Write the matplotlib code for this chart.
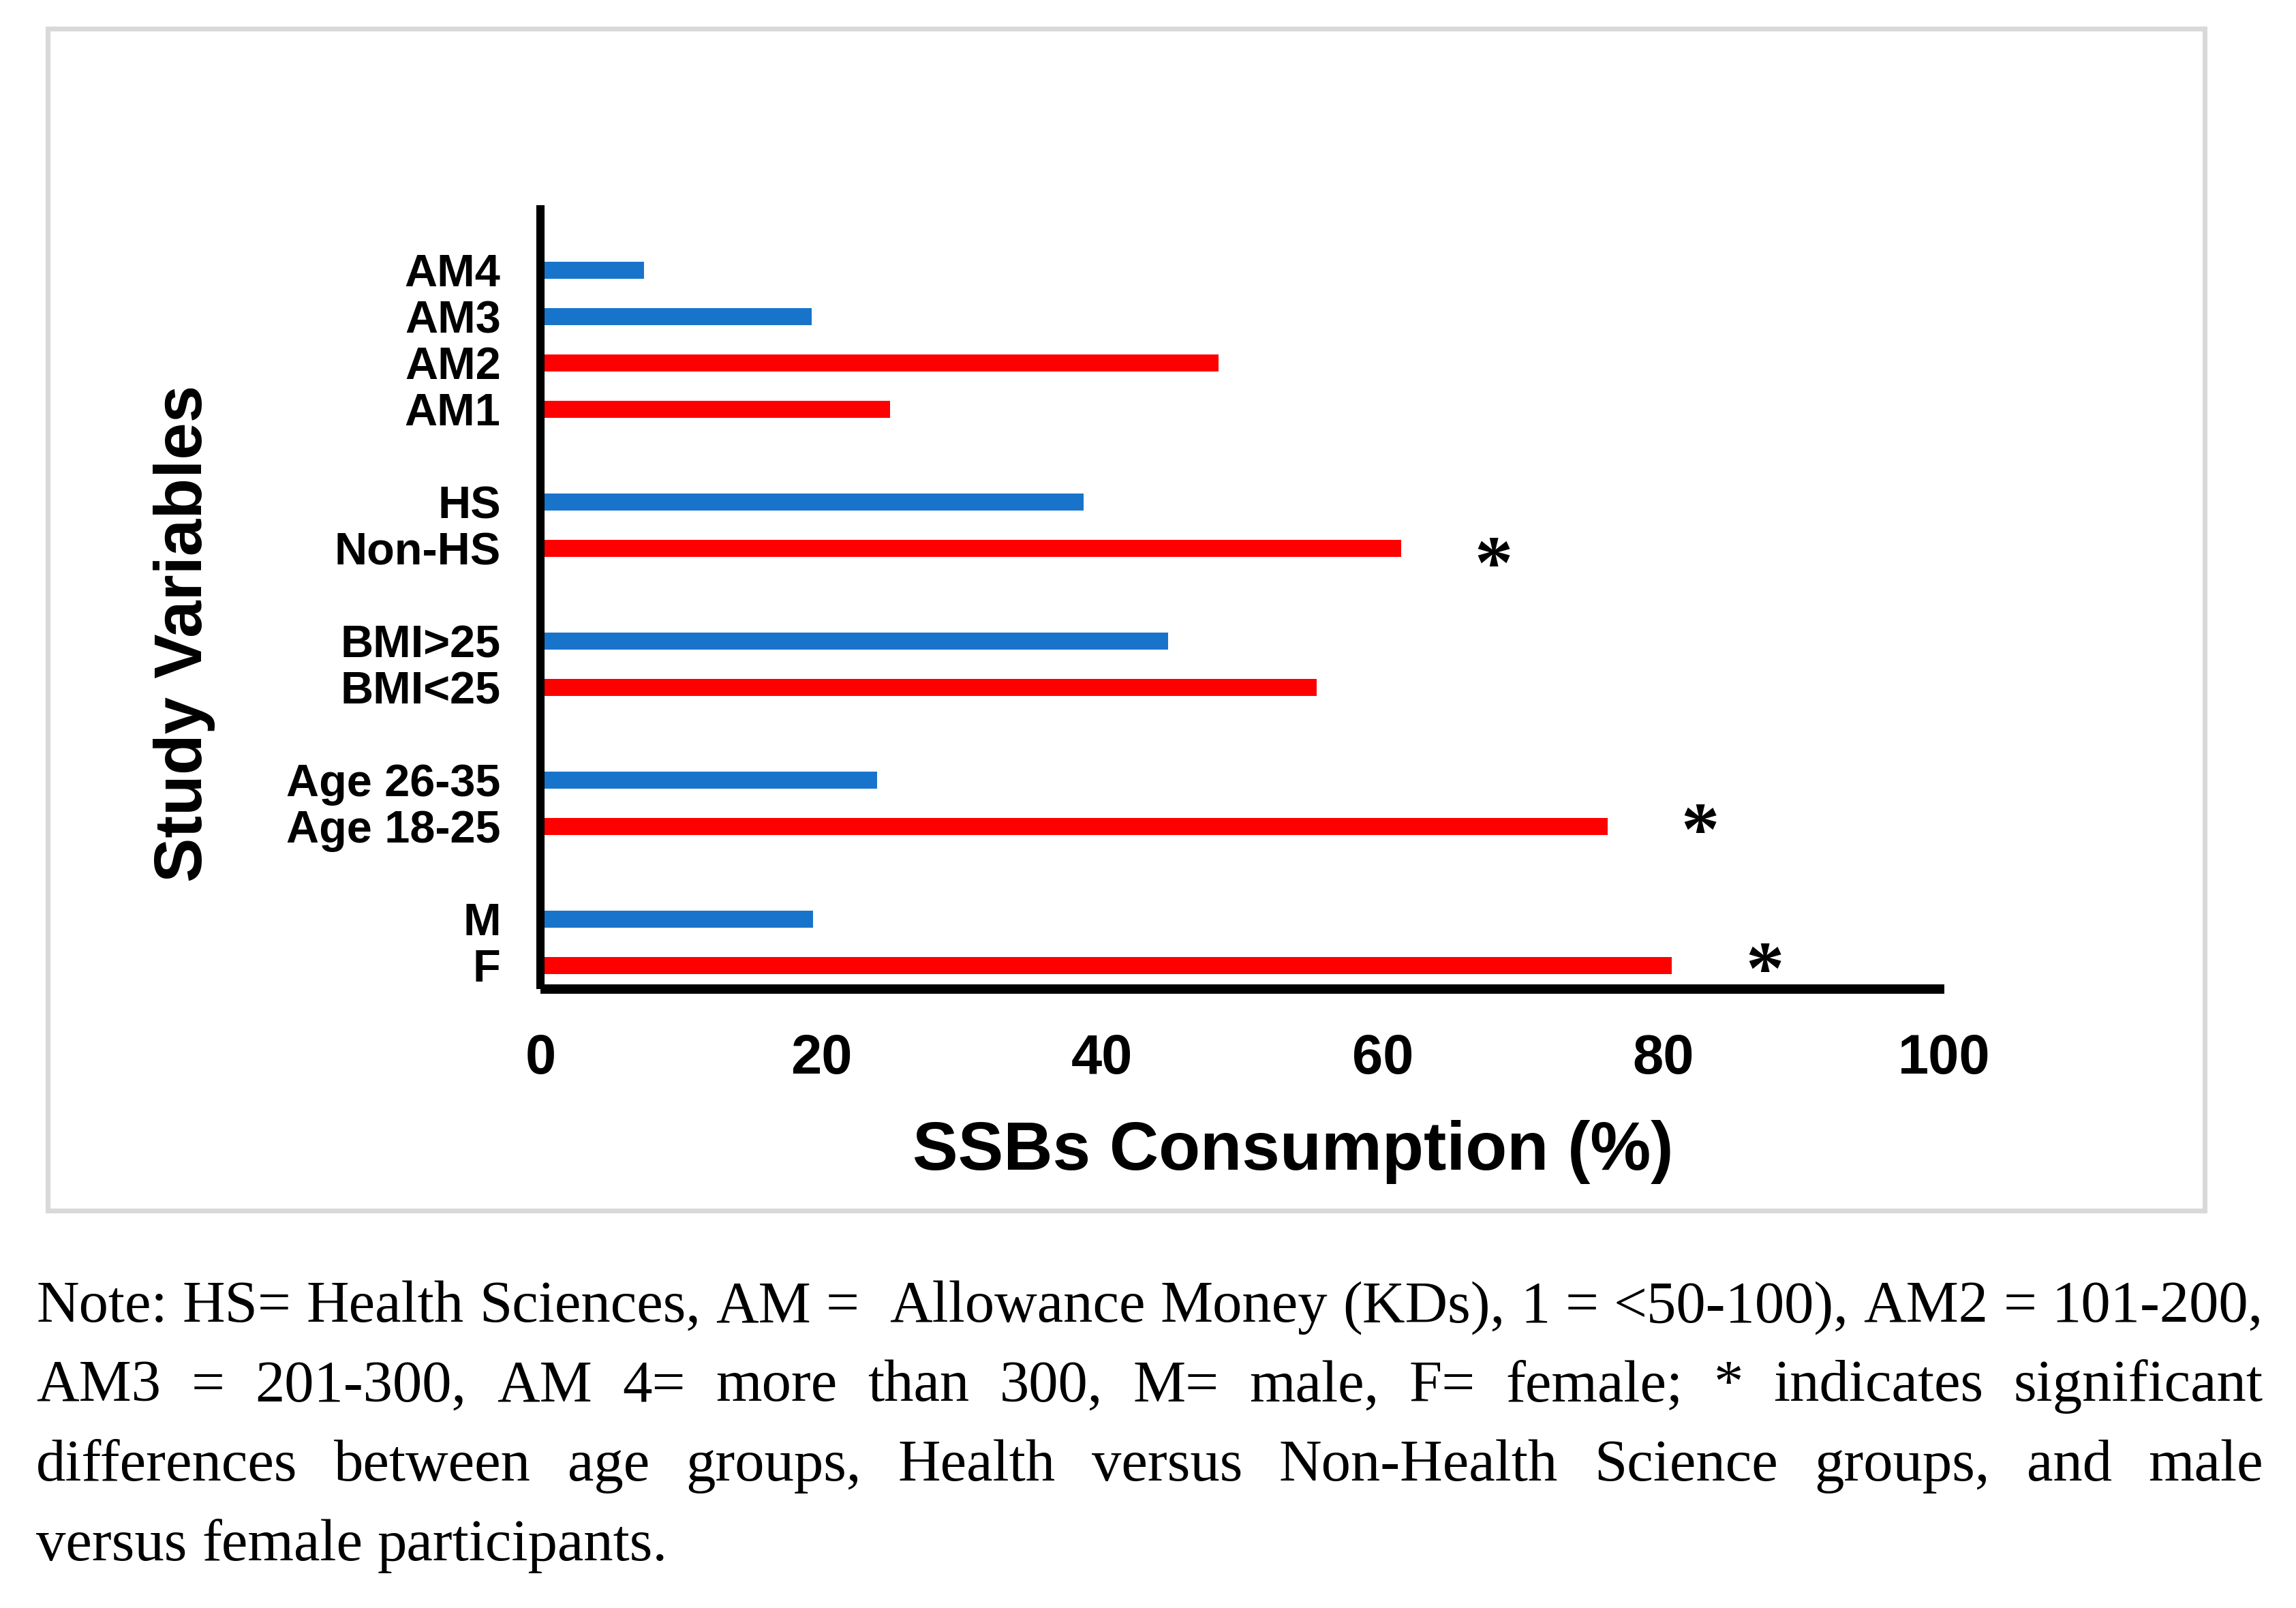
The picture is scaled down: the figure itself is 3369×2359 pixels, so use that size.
import matplotlib
matplotlib.use("Agg")
import matplotlib.pyplot as plt
from matplotlib.patches import Rectangle
from matplotlib.font_manager import FontProperties

# ---------------- data ----------------
group_labels = [
    ["F", "M"],
    ["Age 18-25", "Age 26-35"],
    ["BMI<25", "BMI>25"],
    ["Non-HS", "HS"],
    ["AM1", "AM2", "AM3", "AM4"],
]
group_values = [
    [80.6, 19.4],
    [76.0, 24.0],
    [55.3, 44.7],
    [61.3, 38.7],
    [24.9, 48.3, 19.3, 7.4],
]
significant = ["F", "Age 18-25", "Non-HS"]
x_ticks = [0, 20, 40, 60, 80, 100]
x_label = "SSBs Consumption (%)"
y_label = "Study Variables"
note_lines = [
    "Note: HS= Health Sciences, AM =  Allowance Money (KDs), 1 = <50-100), AM2 = 101-200,",
    "AM3 = 201-300, AM 4= more than 300, M= male, F= female; * indicates significant",
    "differences between age groups, Health versus Non-Health Science groups, and male",
    "versus female participants.",
]

# ---------------- styles ----------------
RED = "#FF0000"
BLUE = "#1874CB"
group_colors = [
    [RED, BLUE],
    [RED, BLUE],
    [RED, BLUE],
    [RED, BLUE],
    [RED, RED, BLUE, BLUE],
]
star_dx = 6.6
star_dy = {"F": -0.04, "Age 18-25": -0.04, "Non-HS": -0.29}

W, H, DPI = 3369, 2359, 300
fig = plt.figure(figsize=(W / DPI, H / DPI), dpi=DPI)
fig.patch.set_facecolor("white")

# light grey frame around the chart area
fig.add_artist(Rectangle((69.5 / W, 1 - 1775.5 / H), (3235 - 69.5) / W, (1775.5 - 42.5) / H,
                         transform=fig.transFigure, fill=False, edgecolor="#D9D9D9",
                         linewidth=1.7, zorder=0))

# axes placement
left, right = 793 / W, 2853 / W
bottom, top = 1 - 1451 / H, 1 - 301 / H
ax = fig.add_axes([left, bottom, right - left, top - bottom])

labels, values, colors, ypos = [], [], [], []
pos = 0
for gl, gv, gc in zip(group_labels, group_values, group_colors):
    for l, v, c in zip(gl, gv, gc):
        labels.append(l)
        values.append(v)
        colors.append(c)
        ypos.append(pos)
        pos += 1
    pos += 1  # gap between groups

ax.barh(ypos, values, height=0.37, color=colors, zorder=2)

for l, v, y in zip(labels, values, ypos):
    if l in significant:
        ax.text(v + star_dx, y + star_dy[l], "*", fontsize=27, fontweight="bold",
                family="Liberation Serif", ha="center", va="center_baseline", color="black")

ax.set_xlim(0, 100)
ax.set_ylim(-0.51, 16.4)
ax.set_xticks(x_ticks)
ax.set_xticklabels([str(t) for t in x_ticks], fontsize=19.5, fontweight="bold",
                   family="Liberation Sans")
ax.set_yticks(ypos)
ax.set_yticklabels(labels, fontsize=16, fontweight="bold", family="Liberation Sans")
ax.tick_params(axis="x", length=0, pad=15.5)
ax.tick_params(axis="y", length=0, pad=14)
for s in ["top", "right"]:
    ax.spines[s].set_visible(False)
ax.spines["left"].set_linewidth(2.9)
ax.spines["bottom"].set_linewidth(3.3)
for s in ["left", "bottom"]:
    ax.spines[s].set_zorder(3)
    ax.spines[s].set_capstyle("butt")
ax.set_facecolor("none")

fig.text(1897 / W, 1 - 1716 / H, x_label, fontsize=24, fontweight="bold",
         family="Liberation Sans", ha="center", va="baseline")
fig.text(271 / W, 1 - 929.5 / H, y_label, fontsize=23.5, fontweight="bold",
         family="Liberation Sans", ha="center", va="center", rotation=90)

# ---------------- justified note text ----------------
renderer = fig.canvas.get_renderer()
x_left_px, x_right_px = 53, 3321
target = x_right_px - x_left_px
baselines = [1939, 2055.5, 2172, 2288.5]


def tw(s, prop):
    if s == "":
        return 0.0
    return renderer.get_text_width_height_descent(s, prop, ismath=False)[0]


base = 20.0
prop = FontProperties(family="Liberation Serif", size=base)
sp = tw("a a", prop) - tw("aa", prop)
words0 = note_lines[0].split(" ")
nat = sum(tw(wd, prop) for wd in words0) + sp * (len(words0) - 1)
fsize = min(base * target / nat, 21.5)
prop = FontProperties(family="Liberation Serif", size=fsize)
sp = tw("a a", prop) - tw("aa", prop)

for i, (line, bl) in enumerate(zip(note_lines, baselines)):
    words = line.split(" ")
    widths = [tw(wd, prop) for wd in words]
    if i < len(note_lines) - 1 and len(words) > 1:
        gap = (target - sum(widths)) / (len(words) - 1)
    else:
        gap = sp
    x = x_left_px
    for wd, wdt in zip(words, widths):
        if wd:
            fig.text(x / W, 1 - bl / H, wd, fontproperties=prop, ha="left",
                     va="baseline", color="black")
        x += wdt + gap

fig.savefig("out.png", dpi=DPI, facecolor="white")
